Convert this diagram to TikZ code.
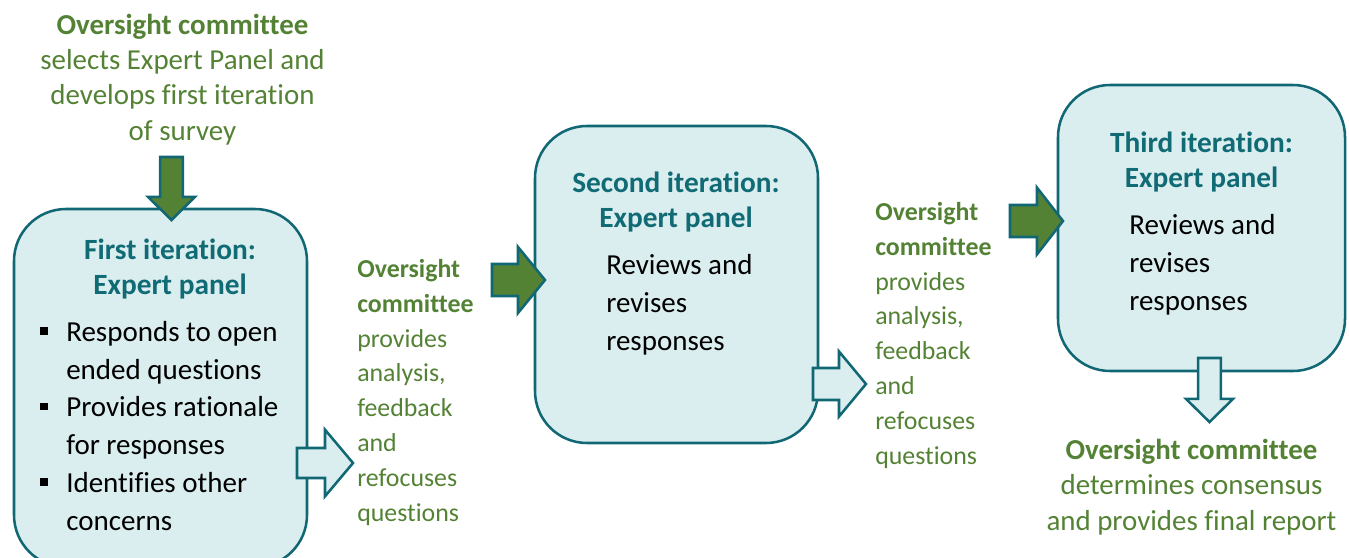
\documentclass[tikz,border=0pt]{standalone}
\usepackage{fontspec}
\setmainfont{Carlito}[Ligatures=CommonOff]
\usepackage{tikz}
\usetikzlibrary{positioning, calc}
\definecolor{panelfill}{RGB}{218,237,239}
\definecolor{panelline}{RGB}{17,104,116}
\definecolor{paneltitle}{RGB}{17,107,117}
\definecolor{ocgreen}{RGB}{84,130,53}
\tikzset{
x=0.75pt, y=-0.75pt, % one unit is one pixel of the layout
panel/.style={draw=panelline, line width=1.9pt, fill=panelfill, rounded corners=39pt}, % the three expert panel boxes
paneltext/.style={inner sep=0pt, anchor=base, align=center, text=paneltitle, font=\bfseries\fontsize{22}{26}\selectfont},
bodytext/.style={inner sep=0pt, anchor=base west, align=left, font=\fontsize{21.75}{28.3}\selectfont},
notetext/.style={inner sep=0pt, anchor=base west, align=left, text=ocgreen, font=\fontsize{19.4}{26.1}\selectfont},
endtext/.style={inner sep=0pt, anchor=base, align=center, text=ocgreen, font=\fontsize{21.7}{26.4}\selectfont}, % first and last step
darkarrow/.style={draw=panelline, line width=1.9pt, fill=ocgreen}, % oversight committee hands over
lightarrow/.style={draw=panelline, line width=1.9pt, fill=panelfill}, % panel hands back
}
% block arrow: style, from, tip, half shaft, half head, head length
\newcommand{\blockarrow}[6]{%
  \coordinate (bac) at ($(#3)!#6!(#2)$);
  \draw[#1] ($(#2)!#4!90:(#3)$) -- ($(bac)!#4!90:(#3)$) -- ($(bac)!#5!90:(#3)$)
    -- (#3) -- ($(bac)!#5!-90:(#3)$) -- ($(bac)!#4!-90:(#3)$) -- ($(#2)!#4!-90:(#3)$) -- cycle;}
\newcommand{\sqbullet}{\makebox[19.5pt][l]{\rule[5pt]{5.6pt}{5.6pt}}}

\begin{document}
\begin{tikzpicture}
            \useasboundingbox (0,0) rectangle (1349,557);
            \clip (0,0) rectangle (1349,557);
            % panels
            \node[panel, minimum width=219.75pt, minimum height=268.5pt] (box1) at (160.5,388) {};
            \node[panel, minimum width=212.25pt, minimum height=237.75pt] (box2) at (676.5,284.5) {};
            \node[panel, minimum width=215.25pt, minimum height=214.5pt] (box3) at (1201.5,228) {};
            % texts (anchored at the baseline of their last line)
            \node[endtext] (start) at (182.5,140)
                {\textbf{Oversight committee}\\selects Expert Panel and\\develops first iteration\\of survey};
            \node[paneltext] (title1) at (170,294) {First iteration:\\Expert panel};
            \node[bodytext] (body1) at (40,530)
                {\sqbullet Responds to open\\\hspace*{19.5pt}ended questions\\
                 \sqbullet Provides rationale\\\hspace*{19.5pt}for responses\\
                 \sqbullet Identifies other\\\hspace*{19.5pt}concerns};
            \node[notetext] (note1) at (357,521)
                {\textbf{Oversight}\\\textbf{committee}\\provides\\analysis,\\feedback\\and\\refocuses\\questions};
            \node[paneltext] (title2) at (676,227) {Second iteration:\\Expert panel};
            \node[bodytext] (body2) at (606,350) {Reviews and\\revises\\responses};
            \node[notetext] (note2) at (875,464)
                {\textbf{Oversight}\\\textbf{committee}\\provides\\analysis,\\feedback\\and\\refocuses\\questions};
            \node[paneltext] (title3) at (1201.5,187) {Third iteration:\\Expert panel};
            \node[bodytext] (body3) at (1129,310) {Reviews and\\revises\\responses};
            \node[endtext] (report) at (1191.5,530)
                {\textbf{Oversight committee}\\determines consensus\\and provides final report};
            % arrow ends
            \coordinate (a0s) at (171.5,157);  \coordinate (a0t) at (171.5,220);
            \coordinate (a1s) at (297,463);    \coordinate (a1t) at (353,463);
            \coordinate (a2s) at (492,280);    \coordinate (a2t) at (545,280);
            \coordinate (a3s) at (813,384);    \coordinate (a3t) at (866,384);
            \coordinate (a4s) at (1010,221);   \coordinate (a4t) at (1063,221);
            \coordinate (a5s) at (1209.5,358); \coordinate (a5t) at (1209.5,422);
            \blockarrow{darkarrow}{a0s}{a0t}{8.6pt}{17.6pt}{17.3pt}
            \blockarrow{lightarrow}{a1s}{a1t}{11.25pt}{25pt}{21pt}
            \blockarrow{darkarrow}{a2s}{a2t}{12pt}{24.75pt}{20.25pt}
            \blockarrow{lightarrow}{a3s}{a3t}{12pt}{24.4pt}{20.25pt}
            \blockarrow{darkarrow}{a4s}{a4t}{12pt}{25pt}{19.5pt}
            \blockarrow{lightarrow}{a5s}{a5t}{8.6pt}{17.6pt}{17.3pt}
            \end{tikzpicture}
\end{document}
